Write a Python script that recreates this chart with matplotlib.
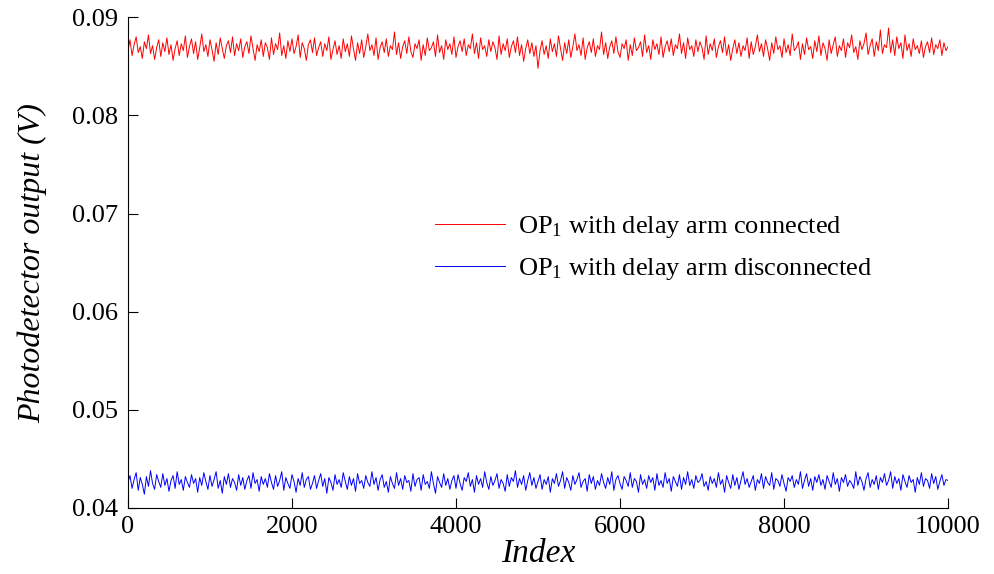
import numpy as np
import matplotlib
matplotlib.use('Agg')
import matplotlib.pyplot as plt

plt.rcParams['font.family'] = ['Liberation Serif', 'DejaVu Serif']
plt.rcParams['mathtext.fontset'] = 'custom'
plt.rcParams['mathtext.rm'] = 'Liberation Serif'
plt.rcParams['mathtext.it'] = 'Liberation Serif:italic'

# photodetector output in units of 0.1 mV, one sample every 25 indices
# (the band is too dense to read every point)
connected_01mv = [
    866, 877, 861, 872, 880, 864, 870, 858, 875, 868,
    882, 863, 871, 857, 869, 877, 860, 874, 865, 879,
    862, 872, 856, 868, 876, 861, 873, 866, 881, 859,
    870, 878, 863, 875, 857, 869, 883, 865, 872, 860,
    877, 867, 855, 874, 862, 879, 868, 858, 871, 876,
    864, 880, 861, 873, 866, 878, 859, 870, 875, 863,
    881, 868, 856, 872, 865, 877, 860, 874, 869, 857,
    879, 862, 873, 867, 884, 861, 871, 858, 876, 865,
    878, 863, 870, 882, 859, 874, 868, 856, 872, 877,
    864, 879, 861, 869, 875, 860, 873, 866, 880, 857,
    867, 876, 862, 871, 858, 878, 865, 873, 860, 881,
    868, 856, 874, 863, 877, 859, 870, 883, 866, 872,
    861, 879, 857, 869, 875, 864, 878, 860, 871, 867,
    885, 862, 874, 858, 870, 876, 863, 880, 865, 859,
    873, 868, 877, 856, 872, 861, 879, 866, 869, 875,
    860, 882, 864, 871, 857, 877, 867, 873, 862, 880,
    859, 870, 876, 865, 878, 861, 872, 868, 883, 863,
    874, 858, 879, 867, 871, 860, 877, 865, 875, 869,
    857, 881, 862, 873, 866, 878, 859, 870, 876, 864,
    880, 861, 872, 855, 868, 877, 863, 874, 860, 871,
    848, 866, 876, 862, 871, 858, 878, 865, 873, 860,
    881, 868, 856, 874, 863, 877, 859, 870, 883, 866,
    872, 861, 879, 857, 869, 875, 864, 878, 860, 871,
    867, 885, 862, 874, 858, 870, 876, 863, 880, 865,
    859, 873, 868, 877, 856, 872, 861, 879, 866, 869,
    875, 860, 882, 864, 871, 857, 877, 867, 873, 862,
    880, 859, 870, 876, 865, 878, 861, 872, 868, 883,
    863, 874, 858, 879, 867, 871, 860, 877, 865, 875,
    869, 857, 881, 862, 873, 866, 878, 859, 870, 876,
    864, 880, 861, 872, 856, 868, 877, 863, 874, 860,
    871, 866, 879, 858, 875, 862, 870, 882, 865, 873,
    860, 877, 868, 856, 874, 863, 880, 867, 871, 859,
    878, 864, 872, 861, 883, 866, 869, 875, 857, 873,
    862, 879, 867, 870, 858, 876, 865, 881, 861, 874,
    868, 856, 877, 863, 872, 880, 860, 871, 866, 878,
    859, 874, 869, 882, 864, 870, 857, 876, 867, 873,
    884, 862, 871, 878, 860, 875, 866, 887, 863, 872,
    869, 889, 864, 877, 861, 880, 868, 874, 858, 882,
    866, 873, 860, 878, 867, 871, 863, 876, 859, 870,
    875, 864, 879, 862, 872, 868, 877, 861, 874, 866,
    870,
]

disconnected_01mv = [
    426, 433, 420, 429, 436, 418, 431, 424, 414, 432,
    422, 438, 425, 419, 434, 427, 421, 435, 423, 430,
    417, 428, 433, 420, 437, 424, 429, 418, 432, 426,
    421, 434, 425, 430, 416, 431, 423, 436, 427, 419,
    433, 422, 429, 437, 420, 428, 415, 432, 424, 435,
    421, 430, 426, 418, 434, 423, 431, 419, 428, 433,
    420, 436, 425, 429, 417, 432, 424, 430, 421, 435,
    426, 419, 433, 422, 428, 437, 418, 431, 425, 420,
    434, 427, 416, 430, 423, 436, 421, 429, 432, 419,
    425, 433, 420, 428, 435, 422, 430, 415, 431, 426,
    418, 434, 424, 429, 421, 436, 427, 419, 432, 423,
    430, 417, 435, 425, 428, 420, 433, 426, 422, 437,
    424, 431, 418, 429, 434, 421, 427, 416, 432, 425,
    420, 436, 423, 430, 419, 433, 426, 428, 417, 435,
    422, 429, 431, 418, 434, 424, 427, 420, 437, 425,
    415, 432, 426, 421, 435, 423, 430, 419, 428, 433,
    420, 434, 425, 418, 431, 427, 436, 422, 429, 416,
    433, 424, 430, 421, 437, 426, 419, 432, 423, 428,
    435, 420, 429, 425, 417, 434, 422, 431, 427, 438,
    421, 430, 424, 433, 418, 428, 436, 423, 431, 420,
    427, 434, 419, 429, 424, 432, 416, 430, 425, 435,
    422, 428, 437, 420, 431, 426, 418, 433, 424, 429,
    436, 421, 427, 430, 417, 434, 425, 432, 419, 428,
    423, 435, 426, 420, 431, 424, 437, 418, 429, 433,
    425, 419, 432, 428, 422, 436, 421, 430, 427, 416,
    434, 424, 429, 420, 433, 426, 431, 418, 435, 423,
    428, 421, 436, 425, 430, 417, 432, 427, 422, 434,
    419, 431, 424, 437, 423, 429, 420, 433, 426, 428,
    435, 422, 427, 418, 432, 425, 430, 421, 436, 424,
    429, 416, 433, 426, 420, 434, 423, 431, 419, 428,
    437, 424, 430, 421, 427, 433, 418, 429, 425, 435,
    420, 432, 426, 423, 436, 419, 430, 428, 422, 434,
    425, 417, 431, 427, 433, 421, 429, 424, 437, 420,
    428, 435, 422, 430, 418, 432, 426, 434, 423, 429,
    419, 433, 427, 421, 436, 424, 430, 417, 431, 426,
    434, 422, 428, 425, 420, 437, 423, 432, 427, 418,
    430, 436, 421, 429, 424, 433, 419, 431, 426, 435,
    423, 428, 437, 420, 432, 425, 430, 418, 434, 427,
    421, 433, 426, 429, 416, 431, 424, 436, 422, 430,
    428, 420, 435, 425, 432, 419, 427, 434, 423, 429,
    428,
]

connected = np.array(connected_01mv) / 10000.0
disconnected = np.array(disconnected_01mv) / 10000.0
index = np.arange(len(connected)) * 25

x_ticks = [0, 2000, 4000, 6000, 8000, 10000]
y_ticks = [0.04, 0.05, 0.06, 0.07, 0.08, 0.09]
y_ticklabels = ['0.04', '0.05', '0.06', '0.07', '0.08', '0.09']

fig = plt.figure(figsize=(9.95, 5.74), dpi=100)
ax = fig.add_axes([0.1286, 0.115, 0.8242, 0.855])

ax.plot(index, connected, color=(1, 0, 0), lw=0.7,
        label=r'OP$_{\mathrm{1}}$ with delay arm connected')
ax.plot(index, disconnected, color=(0, 0, 1), lw=0.7,
        label=r'OP$_{\mathrm{1}}$ with delay arm disconnected')

ax.set_xlim(0, 10000)
ax.set_ylim(0.04, 0.09)
ax.set_xticks(x_ticks)
ax.set_yticks(y_ticks)
ax.set_yticklabels(y_ticklabels)
ax.tick_params(direction='in', length=7, width=0.8, labelsize=19)
ax.tick_params(axis='y', pad=7)
ax.tick_params(axis='x', pad=6)

ax.spines['top'].set_visible(False)
ax.spines['right'].set_visible(False)

ax.set_xlabel('Index', fontsize=24, style='italic', labelpad=0)
ax.set_ylabel('Photodetector output (V)', fontsize=23, style='italic', labelpad=18)

ax.legend(loc='center left', bbox_to_anchor=(0.374, 0.530), frameon=False,
          borderpad=0, borderaxespad=0, handlelength=2.65, handletextpad=0.5,
          labelspacing=0.6, fontsize=19)

plt.savefig('out.png', dpi=100)
plt.close()
